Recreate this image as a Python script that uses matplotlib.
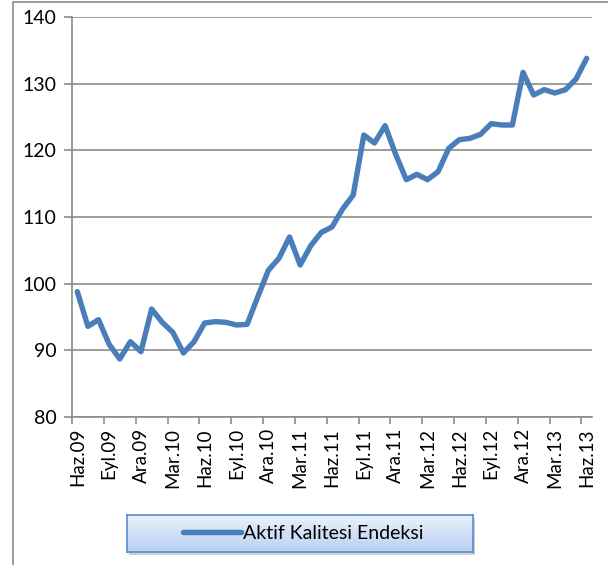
import matplotlib

matplotlib.use("Agg")
import matplotlib.pyplot as plt
import numpy as np
from matplotlib.patches import Rectangle

plt.rcParams["font.family"] = ["Lato", "DejaVu Sans"]

# Monthly index, Haz.09 .. Haz.13
values = [
    98.8, 93.6, 94.6, 90.9, 88.7, 91.3, 89.8, 96.2, 94.2, 92.7,
    89.6, 91.3, 94.1, 94.3, 94.2, 93.8, 93.9, 98.0, 102.0, 103.8,
    107.0, 102.8, 105.7, 107.7, 108.5, 111.2, 113.3, 122.3, 121.1, 123.7,
    119.4, 115.6, 116.4, 115.6, 116.8, 120.3, 121.6, 121.8, 122.4, 124.0,
    123.8, 123.8, 131.7, 128.3, 129.1, 128.6, 129.1, 130.7, 133.8,
]
tick_labels = [
    "Haz.09", "Eyl.09", "Ara.09", "Mar.10", "Haz.10", "Eyl.10", "Ara.10",
    "Mar.11", "Haz.11", "Eyl.11", "Ara.11", "Mar.12", "Haz.12", "Eyl.12",
    "Ara.12", "Mar.13", "Haz.13",
]
series_name = "Aktif Kalitesi Endeksi"

LINE_COLOR = "#4a7ebb"
GRID_COLOR = "#8c8c8c"
W, H = 608, 565

fig = plt.figure(figsize=(W / 100, H / 100), dpi=100)

# outer chart border
fig.patches.append(
    Rectangle((13 / W, -0.1), 1.2, 1.1 - 2 / H, transform=fig.transFigure,
              fill=False, edgecolor=GRID_COLOR, lw=1.2)
)

ax = fig.add_axes([72 / W, 1 - 417 / H, 520 / W, 400 / H])
x = np.arange(len(values))
(line,) = ax.plot(x, values, color=LINE_COLOR, lw=3.9, solid_joinstyle="round",
                  solid_capstyle="round", label=series_name, zorder=3)

ax.set_ylim(80, 140)
ax.set_yticks(np.arange(80, 141, 10))
ax.set_xlim(-0.5, len(values) - 0.5)
ax.grid(axis="y", color=GRID_COLOR, lw=1.2)
ax.set_axisbelow(True)

# tick marks on category boundaries, labels on category centres
ax.set_xticks(np.arange(-0.5, len(values) - 1, 3))
ax.set_xticklabels([])
ax.set_xticks(np.arange(0, len(values), 3), minor=True)
ax.set_xticklabels(tick_labels, minor=True, rotation=90, fontsize=13.5)
ax.tick_params(axis="x", which="major", length=5, width=1.2, color=GRID_COLOR)
ax.tick_params(axis="x", which="minor", length=0, pad=8)
ax.tick_params(axis="y", length=6, width=1.2, color=GRID_COLOR, labelsize=14, pad=5)

for side in ("top", "right"):
    ax.spines[side].set_visible(False)
for side in ("left", "bottom"):
    ax.spines[side].set_color(GRID_COLOR)
    ax.spines[side].set_linewidth(1.2)

# legend box: shadow + gradient fill
lx, ly, lw_, lh = 127 / W, 1 - 552 / H, 346 / W, 37 / H
shadow = Rectangle((lx + 2 / W, ly - 3 / H), lw_, lh, transform=fig.transFigure,
                   facecolor="#b0b0b0", edgecolor="none", alpha=0.6, zorder=-1)
fig.patches.append(shadow)
lax = fig.add_axes([lx, ly, lw_, lh])
grad = np.linspace(0, 1, 64).reshape(-1, 1)
cmap = matplotlib.colors.LinearSegmentedColormap.from_list("bg", ["#eaf1fc", "#b9d1f2"])
lax.imshow(grad, aspect="auto", cmap=cmap, extent=(0, 1, 0, 1))
lax.set_xticks([])
lax.set_yticks([])
for s in lax.spines.values():
    s.set_color("#5b8bd0")
    s.set_linewidth(1.2)

fig.legend(handles=[line], loc="center", bbox_to_anchor=(lx + lw_ / 2 + 3 / W, ly + lh / 2),
           frameon=False, fontsize=14, handlelength=3.0, handletextpad=0.1,
           borderpad=0)

plt.savefig("out.png", dpi=100)
